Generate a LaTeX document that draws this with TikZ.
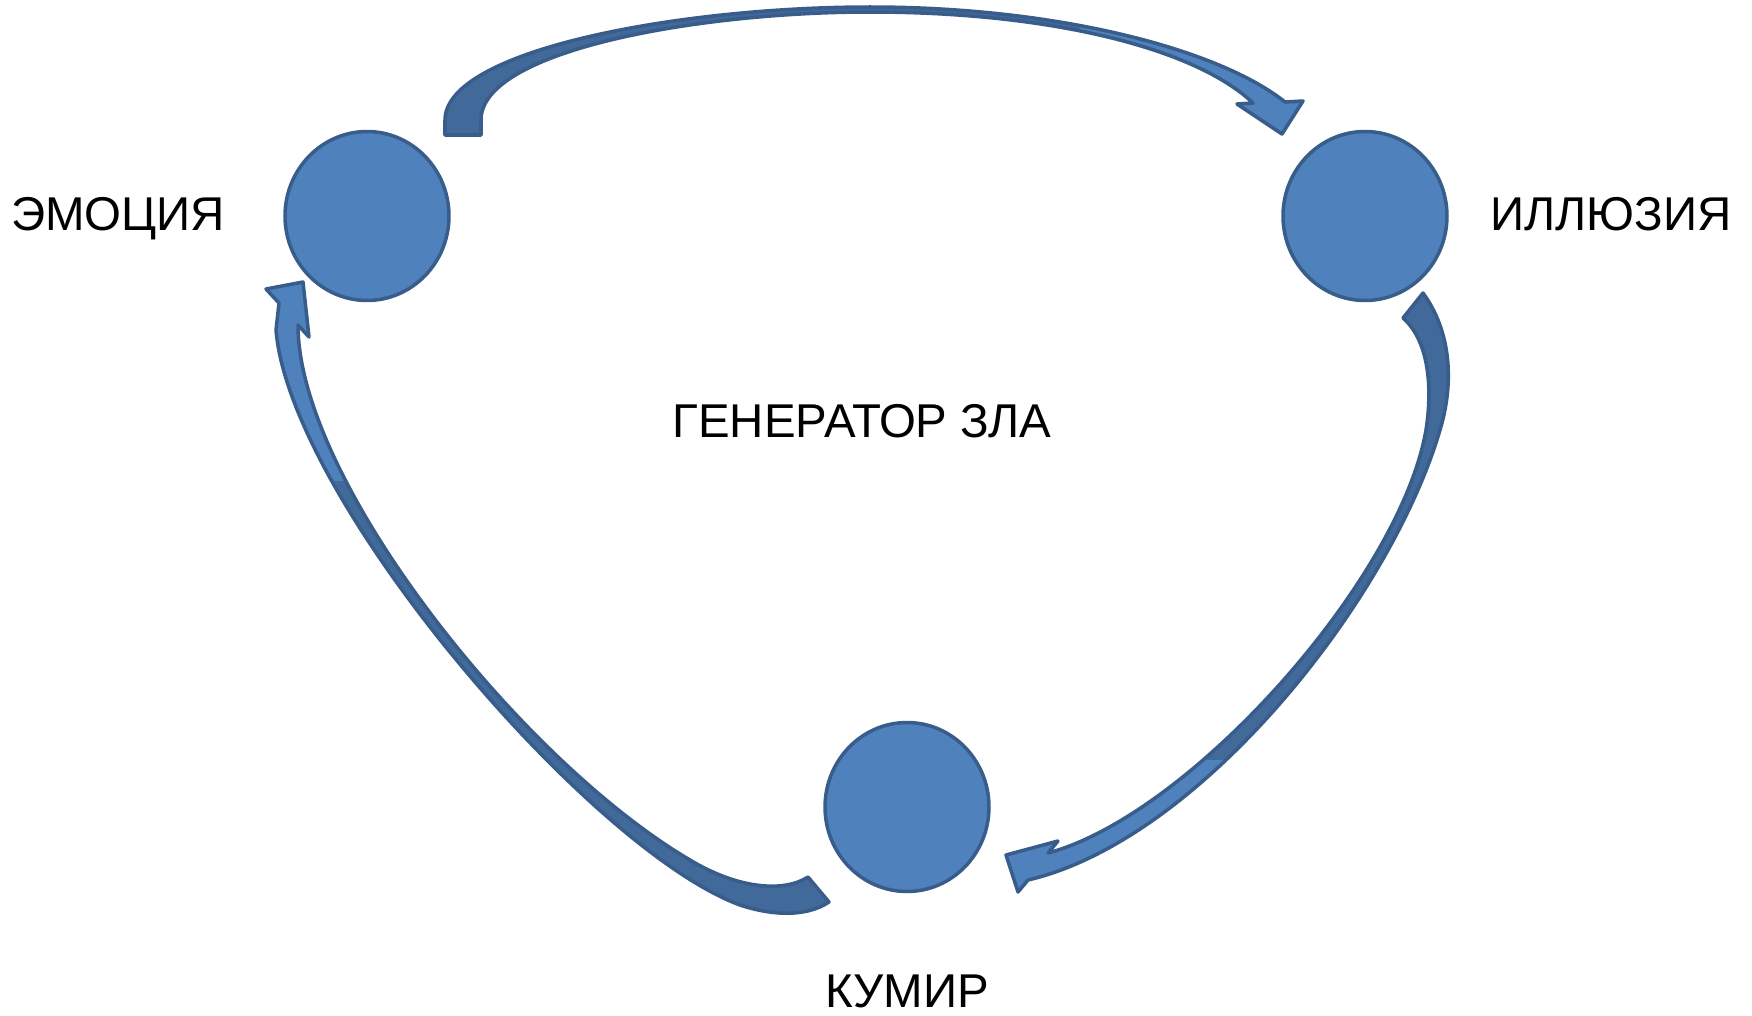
\documentclass[tikz,border=0pt]{standalone}
\usepackage{fontspec}
\setmainfont{Liberation Sans}
\usetikzlibrary{shapes.geometric}
\definecolor{ballblue}{HTML}{4F81BD}
\definecolor{rimblue}{HTML}{385D8A}
\definecolor{backblue}{HTML}{41699A}
% the three curved block arrows, in pixel units
\newcommand{\toparrow}{(445,135) -- (445,120) .. controls (445,50) and (680,7) .. (870,7)
 .. controls (1060,7) and (1220,50) .. (1285,102)
 -- (1303,101) -- (1282,134) -- (1237,104) -- (1253,103)
 .. controls (1195,48) and (1050,12) .. (870,12)
 .. controls (700,12) and (481,50) .. (481,120) -- (481,135) -- cycle}
\newcommand{\rightarrowshape}{(1423,293) .. controls (1450,330) and (1455,380) .. (1440,430)
 .. controls (1390,600) and (1200,840) .. (1028,880)
 -- (1018,892) -- (1006,855) -- (1058,841) -- (1048,853)
 .. controls (1190,815) and (1400,580) .. (1426,430)
 .. controls (1433,385) and (1428,340) .. (1403,318) -- cycle}
\newcommand{\leftarrowshape}{(829,902) .. controls (805,918) and (770,915) .. (740,905)
 .. controls (590,850) and (290,500) .. (276,330) -- (279,303)
 -- (266,289) -- (303,282) -- (309,337) -- (298,325)
 .. controls (298,480) and (520,760) .. (690,860)
 .. controls (740,890) and (785,892) .. (808,877) -- cycle}

\begin{document}
\begin{tikzpicture}[x=0.02cm,y=-0.02cm,
  ball/.style={ellipse,fill=ballblue,draw=rimblue,line width=2pt,minimum width=3.28cm,minimum height=3.38cm},
  caption/.style={font=\fontsize{27}{32}\selectfont,anchor=base,inner sep=0pt},
  rim/.style={draw=rimblue,line width=2pt,line join=round}]
\useasboundingbox (0,0) rectangle (1752,1015);

% balls
\node[ball] (emoball) at (367,216) {};
\node[ball] (illball) at (1365,216) {};
\node[ball] (kumball) at (907,807) {};

% captions
\node[caption] (emo) at (118,230) {ЭМОЦИЯ};
\node[caption] (ill) at (1611,230) {ИЛЛЮЗИЯ};
\node[caption] (gen) at (862,437) {ГЕНЕРАТОР ЗЛА};
\node[caption] (kum) at (907,1007) {КУМИР};

% arrows: dark back part, light front part, then the rim
\fill[backblue] \toparrow;
\begin{scope}
\clip (1080,0) rectangle (1400,200);
\fill[ballblue] \toparrow;
\end{scope}
\path[rim] \toparrow;

\fill[backblue] \rightarrowshape;
\begin{scope}
\clip (950,760) rectangle (1250,950);
\fill[ballblue] \rightarrowshape;
\end{scope}
\path[rim] \rightarrowshape;

\fill[backblue] \leftarrowshape;
\begin{scope}
\clip (200,200) rectangle (450,480);
\fill[ballblue] \leftarrowshape;
\end{scope}
\path[rim] \leftarrowshape;
\end{tikzpicture}
\end{document}
